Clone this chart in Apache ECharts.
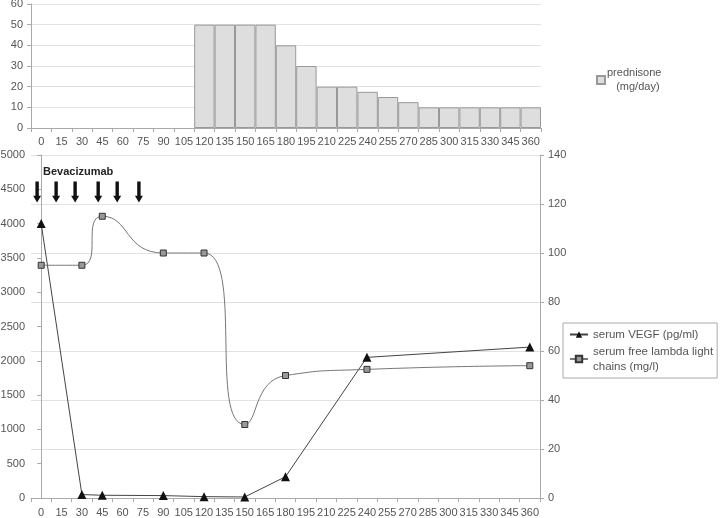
<!DOCTYPE html>
<html>
<head>
<meta charset="utf-8">
<script src="https://cdn.jsdelivr.net/npm/echarts@6/dist/echarts.min.js"></script>
<style>html,body{margin:0;padding:0;background:#fff}#c{width:720px;height:518px}</style>
</head>
<body>
<div id="c"></div>
<script>
const days = ['0','15','30','45','60','75','90','105','120','135','150','165','180','195','210','225','240','255','270','285','300','315','330','345','360'];
const prednisone = [null,null,null,null,null,null,null,null,50,50,50,50,40,30,20,20,17.5,15,12.5,10,10,10,10,10,10];
const vegfDays = ['0','30','45','90','120','150','180','240','360'];
const vegfValues = [4000,50,40,35,20,15,310,2050,2200];
const lambdaDays = ['0','30','45','90','120','150','180','240','360'];
const lambdaValues = [95,95,115,100,100,30,50,52.5,54];
const bevacizumabDays = [-3,11,25,42,56,72];
const bevacizumabLevel = 4460;

const font = 'Liberation Sans, Arial, sans-serif';
const lbl = {color:'#555', fontSize:11, fontFamily:font};
const axLine = {show:true, lineStyle:{color:'#aaa'}};
const tick = {show:true, lineStyle:{color:'#aaa'}, length:4};

const chart = echarts.init(document.getElementById('c'), null, {renderer:'canvas'});
chart.setOption({
  animation:false,
  backgroundColor:'#fff',
  textStyle:{fontFamily:font},
  grid:[
    {left:31, right:179, top:4, height:124, outerBoundsMode:'none', containLabel:false},
    {left:31, right:180, top:155, height:343, outerBoundsMode:'none', containLabel:false}
  ],
  xAxis:[
    {type:'category', gridIndex:0, data:days, boundaryGap:true, axisLine:axLine, axisTick:tick, axisLabel:{...lbl, interval:0, margin:8}, splitLine:{show:false}},
    {type:'category', gridIndex:1, data:days, boundaryGap:true, axisLine:axLine, axisTick:tick, axisLabel:{...lbl, interval:0, margin:9}, splitLine:{show:false}},
    {type:'value', gridIndex:1, min:-7.5, max:367.5, show:false}
  ],
  yAxis:[
    {type:'value', gridIndex:0, min:0, max:60, interval:10, axisLine:axLine, axisTick:tick, axisLabel:{...lbl, margin:8}, splitLine:{show:true, lineStyle:{color:'#e2e2e2'}}},
    {type:'value', gridIndex:1, min:0, max:5000, interval:500, axisLine:axLine, axisTick:tick, axisLabel:{...lbl, margin:6, formatter:function(v){return String(v);}}, splitLine:{show:false}},
    {type:'value', gridIndex:1, position:'right', min:0, max:140, interval:20, axisLine:axLine, axisTick:tick, axisLabel:{...lbl, margin:8}, splitLine:{show:true, lineStyle:{color:'#e2e2e2'}}}
  ],
  legend:[
    {data:[{name:'prednisone', icon:'rect'}], left:591, top:61, orient:'vertical', itemWidth:8, itemHeight:8, itemGap:2,
     formatter:function(){return 'prednisone\n   (mg/day)';},
     textStyle:{color:'#555', fontSize:11, fontFamily:font, lineHeight:14, padding:[0,0,0,-3]}},
    {data:['serum VEGF (pg/ml)','serum free lambda light chains (mg/l)'], left:563, top:323, orient:'vertical',
     borderColor:'#aaa', borderWidth:1, padding:[4,4,4,6], itemGap:2, itemWidth:18, itemHeight:8,
     formatter:function(n){return n.indexOf('lambda')>=0 ? 'serum free lambda light\nchains (mg/l)' : n;},
     textStyle:{color:'#555', fontSize:11.5, fontFamily:font, lineHeight:15}}
  ],
  graphic:[
    {type:'text', left:43, top:166, style:{text:'Bevacizumab', fill:'#222', font:'bold 11px ' + font}}
  ],
  series:[
    {name:'prednisone', type:'bar', xAxisIndex:0, yAxisIndex:0, data:prednisone, barCategoryGap:'0%',
     itemStyle:{color:'#dedede', borderColor:'#999', borderWidth:1}},
    {name:'serum VEGF (pg/ml)', type:'line', xAxisIndex:1, yAxisIndex:1,
     data:vegfDays.map((d,i)=>[d, vegfValues[i]]),
     symbol:'triangle', symbolSize:9, lineStyle:{color:'#444', width:1}, itemStyle:{color:'#111'}},
    {name:'serum free lambda light chains (mg/l)', type:'line', xAxisIndex:1, yAxisIndex:2, smooth:0.6,
     data:lambdaDays.map((d,i)=>[d, lambdaValues[i]]),
     symbol:'rect', symbolSize:6, lineStyle:{color:'#777', width:1}, itemStyle:{color:'#999', borderColor:'#333', borderWidth:1}},
    {name:'bevacizumab', type:'scatter', xAxisIndex:2, yAxisIndex:1,
     data:bevacizumabDays.map(d=>[d, bevacizumabLevel]),
     symbol:'path://M2.3,0 L5.7,0 L5.7,15 L8,15 L4,22 L0,15 L2.3,15 Z', symbolSize:[8,21], itemStyle:{color:'#111', opacity:1}, silent:true}
  ]
});
</script>
</body>
</html>
